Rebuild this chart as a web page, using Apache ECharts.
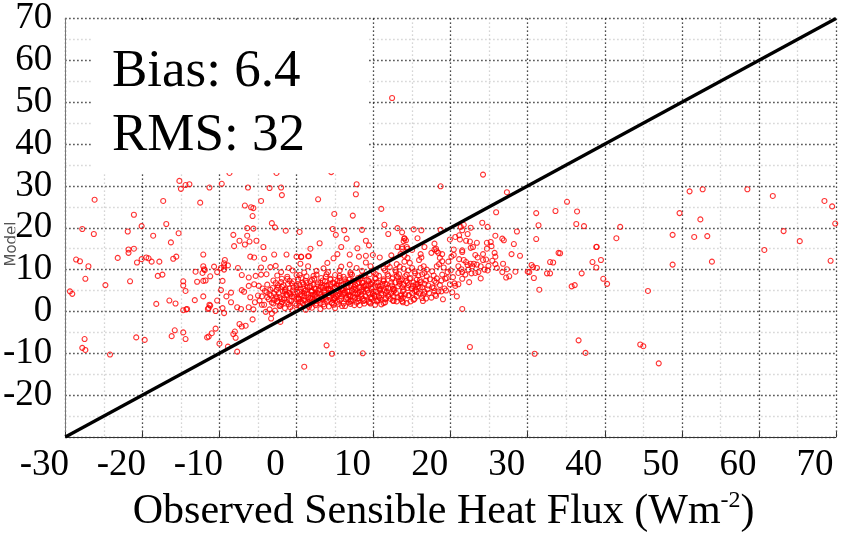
<!DOCTYPE html>
<html><head><meta charset="utf-8">
<script src="https://cdn.jsdelivr.net/npm/echarts@6/dist/echarts.min.js"></script>
<style>html,body{margin:0;padding:0;background:#fff}#c{width:846px;height:538px}</style>
</head><body><div id="c"></div>
<script>
// ---- data ----
const axisRange = [-30, 70];
const tickStep = 10;
const oneToOne = [-30, 70];
const statLines = ['Bias: 6.4', 'RMS: 32'];
const xTitleMain = 'Observed Sensible Heat Flux (Wm';
const xTitleSup = '-2';
const yTitle = 'Model';

// sparse points, left part (obs < -11)
const leftPoints = [[-15.2,31.2],[-15.0,29.3],[-14.4,30.2],[-13.9,30.4],[-11.3,29.6],[-26.2,26.7],[-17.3,26.4],[-12.5,26.0],[-21.1,23.1],[-20.1,20.4],[-16.9,20.9],[-27.8,19.7],[-26.3,18.5],[-21.9,19.1],[-15.3,18.7],[-18.6,18.1],[-16.3,16.5],[-21.8,14.8],[-21.1,15.0],[-21.8,14.0],[-12.1,13.6],[-28.6,12.4],[-28.1,12.0],[-23.2,12.8],[-20.1,12.5],[-19.5,12.9],[-19.2,12.7],[-18.8,11.9],[-20.7,11.7],[-17.8,11.9],[-16.0,12.6],[-15.6,13.1],[-27.0,10.8],[-12.1,10.8],[-11.9,9.9],[-12.2,9.2],[-13.1,9.5],[-18.0,8.5],[-17.4,8.8],[-27.4,7.8],[-11.8,7.4],[-12.9,7.1],[-21.6,7.2],[-14.7,7.2],[-14.7,6.2],[-14.4,4.9],[-24.8,6.3],[-29.4,4.8],[-29.1,4.2],[-12.1,3.6],[-18.2,1.8],[-16.5,2.6],[-15.7,1.9],[-13.2,2.7],[-14.7,0.3],[-14.3,0.5],[-14.2,0.6],[-11.5,0.6],[-11.2,1.4],[-15.8,-4.5],[-14.7,-5.0],[-16.2,-5.9],[-14.4,-6.6],[-20.8,-6.2],[-19.7,-6.8],[-27.5,-6.6],[-27.8,-8.7],[-27.4,-9.2],[-24.2,-10.3],[-11.4,-6.0],[-11.6,-6.2]];

// sparse points, middle-left (-11 .. 2)
const midLeftPoints = [[-8.7,33.1],[-2.6,33.1],[-9.7,30.5],[-6.3,29.6],[-3.5,29.5],[-2.0,29.6],[-1.9,27.8],[-4.6,26.4],[-6.7,25.3],[-5.9,24.9],[-5.6,24.7],[-5.7,22.8],[-3.2,21.1],[-2.8,20.1],[-6.4,19.9],[-5.6,19.8],[-1.4,19.3],[0.4,19.0],[-8.2,18.3],[-6.4,18.1],[-7.4,16.9],[-6.7,16.0],[-6.1,16.7],[-5.2,16.9],[-8.1,15.6],[-4.3,15.4],[-2.9,13.6],[-1.3,13.6],[0.0,13.1],[0.6,13.1],[1.5,13.2],[-6.0,13.1],[-5.5,12.9],[-4.2,12.6],[-9.3,12.3],[-9.4,11.5],[-9.4,10.8],[-10.7,10.7],[-8.9,11.0],[-12.0,10.1],[-4.6,10.5],[-3.4,10.6],[-2.7,10.9],[-7.6,10.4],[-9.4,10.0],[-9.8,10.4],[-10.3,9.4],[-11.2,8.4],[-12.1,7.3],[-7.1,8.7],[-4.6,8.8],[-3.9,8.9],[-6.2,8.1],[-5.3,8.5],[-9.6,7.3],[-9.8,5.1],[-8.5,4.5],[-7.1,5.1],[-6.8,4.7],[-6.2,6.1],[-5.5,6.5],[-4.9,6.1],[-10.3,2.6],[-11.3,1.6],[-11.4,0.8],[-10.5,0.1],[-9.6,0.8],[-9.4,-0.4],[-9.1,3.6],[-8.5,2.2],[-7.7,1.0],[-7.2,0.6],[-6.2,1.0],[-5.6,0.5],[-6.0,3.4],[-5.0,3.8],[-5.4,2.2],[-4.5,1.6],[-4.0,-0.1],[-3.2,-0.5],[-2.1,-2.5],[-3.3,-1.7],[-5.7,-1.9],[-7.4,-3.0],[-6.6,-3.4],[-7.1,-3.6],[-8.0,-4.8],[-8.2,-5.4],[-10.5,-4.1],[-11.0,-5.2],[-7.9,-6.3],[-10.0,-7.7],[-8.9,-8.4],[-7.7,-9.6],[1.0,-13.2]];

// sparse points above / below the main cluster (0 .. 15)
const midPoints = [[7.8,30.4],[7.7,28.0],[2.8,26.8],[11.0,24.5],[4.9,23.3],[7.3,22.9],[4.7,19.7],[6.2,19.4],[8.5,19.5],[5.1,18.3],[11.4,20.7],[11.9,18.5],[13.1,19.9],[6.5,17.4],[9.0,16.9],[14.0,17.4],[14.2,17.0],[3.0,16.3],[5.8,15.4],[7.9,15.1],[9.4,15.8],[13.1,15.4],[13.7,15.0],[1.8,15.0],[0.6,13.0],[1.6,13.2],[4.8,12.7],[5.3,13.7],[6.9,13.6],[8.1,13.1],[9.0,13.3],[9.9,13.5],[10.8,12.9],[12.3,13.4],[3.9,-8.1],[4.6,-10.1],[8.6,-10.0],[12.4,51.0],[4.5,33.3]];

// points with obs 13 .. 35
const midRightPoints = [[24.2,32.7],[18.7,29.9],[27.3,28.5],[25.9,23.7],[31.1,23.5],[33.6,24.0],[31.4,20.6],[24.1,21.2],[21.7,20.7],[21.3,20.2],[21.5,19.4],[22.6,20.0],[24.8,20.2],[28.6,19.1],[15.2,19.6],[16.2,19.4],[13.7,18.9],[18.7,19.5],[14.0,17.5],[13.9,16.8],[15.7,17.5],[19.9,17.2],[20.6,17.8],[21.1,18.2],[21.2,17.2],[22.5,16.7],[23.4,16.4],[24.7,16.4],[25.2,16.6],[24.7,15.0],[25.3,15.6],[25.8,18.1],[26.7,17.4],[26.9,17.0],[28.2,16.1],[31.1,17.3],[22.9,15.4],[22.6,15.2],[22.2,18.5],[22.0,16.9],[15.0,14.7],[14.4,15.0],[16.6,15.4],[17.9,16.2],[18.1,15.0],[27.9,13.7],[29.0,13.3],[25.7,14.0],[23.5,12.9],[20.4,14.8],[21.5,14.6],[21.5,14.2],[18.4,14.0],[18.9,13.7],[18.6,12.8],[20.1,13.1],[20.4,13.5],[21.1,12.5],[16.1,13.7],[16.2,12.9],[15.9,12.3],[17.5,14.0],[17.9,14.8],[18.2,14.4],[13.7,15.4],[14.3,15.4],[13.5,13.7],[14.0,13.3],[14.4,12.8],[24.2,13.7],[23.2,13.5],[24.2,12.3],[24.6,12.4],[25.4,12.1],[25.8,13.1],[26.8,11.4],[22.0,11.8],[22.6,11.4],[23.0,11.4],[23.9,10.8],[24.4,10.0],[24.8,9.8],[23.9,7.9],[24.9,10.9],[25.8,11.3],[26.0,10.4],[26.7,9.4],[27.3,10.1],[27.6,8.4],[27.2,8.1],[28.4,9.5],[21.7,12.3],[21.4,10.1],[21.5,9.4],[22.2,11.1],[22.7,9.1],[22.4,7.0],[20.5,6.7],[19.9,6.5],[20.6,6.1],[30.2,9.4],[30.7,10.6],[30.5,11.1],[31.2,10.4],[30.8,8.0],[31.5,5.2],[32.9,9.1],[30.0,9.5],[33.3,11.7],[34.2,13.9],[21.5,0.6],[22.5,-8.5],[30.9,-10.1],[16.4,2.5],[17.9,4.9],[18.4,4.8],[18.8,4.8],[19.3,7.8],[18.9,8.8],[19.6,9.4],[13.5,3.7],[13.7,2.5],[14.5,3.8],[15.6,4.7],[16.6,4.3],[15.1,6.1],[15.5,6.5],[16.1,7.0],[16.9,8.4],[17.3,7.7],[17.8,8.6],[17.9,7.3],[18.2,7.9],[14.1,8.4],[14.8,8.0],[15.4,9.1],[16.1,10.4],[16.5,10.8],[16.6,9.2],[16.9,10.0],[17.6,9.6],[18.2,10.8],[18.5,11.3],[18.9,12.0],[19.7,11.9],[21.0,10.8],[21.0,9.2],[21.5,7.8],[21.9,8.8],[22.3,10.0],[22.8,10.8],[23.4,11.2],[23.2,9.2],[23.6,9.4],
[12.8,9.9],[13.9,10.2],[15.3,9.6],[16.3,8.9],[17.1,6.2],[17.8,5.6],[18.6,6.3],[19.4,5.0],[20.2,4.6],[15.0,5.5],[16.0,5.7],[14.2,7.2],[15.6,7.6],[16.8,7.4],[13.2,8.1],[12.1,10.6],[13.0,11.3],[14.0,11.9],[19.1,10.5],[20.0,9.8],[20.3,8.2],[19.5,8.0],[16.3,3.2],[17.2,4.4],[18.1,3.7],[15.3,3.0],[14.8,2.4],[20.8,3.6],[19.0,2.9]];

// far right points (obs > 32)
const rightPoints = [[51.0,28.7],[52.7,29.2],[58.5,29.2],[61.8,27.6],[68.5,26.4],[69.5,25.1],[69.9,21.0],[35.1,26.2],[36.4,23.9],[49.7,23.5],[36.3,20.9],[37.3,20.4],[42.0,20.2],[52.4,22.0],[48.8,18.3],[51.6,17.8],[53.3,18.0],[41.5,17.5],[63.2,19.2],[65.3,16.8],[60.7,14.7],[69.3,12.1],[53.9,11.9],[48.8,11.2],[38.9,15.4],[38.95,15.45],[34.0,14.0],[32.9,11.8],[38.4,11.8],[39.5,12.3],[38.9,10.5],[37.0,9.1],[39.8,7.8],[40.3,6.6],[35.7,6.0],[36.1,6.3],[45.6,4.9],[32.5,9.1],[36.6,-6.9],[37.5,-9.9],[44.6,-7.9],[45.0,-8.3],[47.0,-12.4]];

// main cluster
const clusterPoints = [
[-3.5,0.5],[-2.8,0.2],[-1.5,0.8],[-0.5,0.3],[0.5,1.0],[1.2,0.4],[2.0,0.9],[3.1,0.6],[4.2,1.2],[5.0,0.8],[6.3,1.3],[7.5,1.5],[8.8,1.9],[10.2,1.6],[11.5,2.2],[13.0,2.4],[14.3,2.0],
[-4.2,1.6],[-3.0,1.9],[-2.1,1.4],[-1.0,1.7],[0.0,1.5],[0.8,2.0],[1.7,1.6],[2.6,1.9],[3.5,1.7],[4.6,2.1],[5.5,1.8],[6.8,2.2],[8.0,2.5],[9.4,2.3],[10.6,2.8],[12.2,3.0],
[-4.8,2.6],[-3.6,2.9],[-2.5,2.4],[-1.6,2.8],[-0.7,2.5],[0.3,2.9],[1.1,2.6],[2.0,3.0],[2.9,2.7],[3.8,3.0],[4.8,2.8],[5.8,3.1],[6.7,2.9],[7.6,3.3],[8.6,3.1],[9.6,3.4],[10.8,3.2],[11.9,3.6],[13.1,3.4],[14.6,3.9],
[-4.5,3.6],[-3.3,3.8],[-2.2,3.4],[-1.2,3.9],[-0.3,3.5],[0.7,3.8],[1.5,3.4],[2.4,3.9],[3.3,3.5],[4.2,3.9],[5.1,3.6],[6.0,4.0],[6.9,3.7],[7.9,4.1],[8.9,3.8],[9.9,4.2],[11.0,3.9],[12.3,4.3],[13.6,4.0],[15.0,4.4],[16.4,4.0],
[-3.9,4.6],[-2.9,4.3],[-1.8,4.8],[-0.9,4.4],[0.1,4.7],[1.0,4.3],[1.9,4.8],[2.7,4.4],[3.6,4.9],[4.5,4.5],[5.4,4.9],[6.3,4.5],[7.2,5.0],[8.2,4.6],[9.2,5.0],[10.3,4.7],[11.4,5.1],[12.6,4.8],[13.9,5.2],[15.3,4.9],[17.0,5.3],
[-4.4,5.5],[-3.4,5.2],[-2.4,5.7],[-1.4,5.3],[-0.4,5.8],[0.5,5.4],[1.4,5.9],[2.3,5.5],[3.2,5.9],[4.1,5.4],[5.0,5.8],[5.9,5.4],[6.8,5.9],[7.7,5.5],[8.7,5.9],[9.7,5.5],[10.8,6.0],[11.9,5.6],[13.2,6.0],[14.4,5.6],[15.8,6.0],[17.6,5.8],[19.2,5.5],
[-3.8,6.4],[-2.7,6.8],[-1.7,6.3],[-0.6,6.7],[0.4,6.3],[1.3,6.8],[2.2,6.4],[3.1,6.8],[4.0,6.3],[4.9,6.7],[5.8,6.3],[6.7,6.8],[7.6,6.4],[8.6,6.8],[9.6,6.4],[10.6,6.9],[11.7,6.5],[12.8,6.9],[13.9,6.5],[15.2,6.9],[16.6,6.6],[18.1,6.9],[21.0,6.5],
[-3.0,7.4],[-1.9,7.8],[-0.9,7.3],[0.2,7.7],[1.2,7.3],[2.3,7.8],[3.4,7.4],[4.4,7.8],[5.3,7.3],[6.3,7.7],[7.3,7.3],[8.3,7.8],[9.3,7.4],[10.3,7.8],[11.3,7.4],[12.4,7.8],[13.5,7.4],[14.7,7.8],[16.0,7.5],[18.8,7.4],
[-2.5,8.6],[-1.2,8.3],[0.0,8.7],[1.3,8.4],[2.6,8.8],[3.8,8.3],[5.0,8.7],[6.1,8.3],[7.2,8.8],[8.4,8.4],[9.5,8.9],[10.7,8.5],[11.8,8.9],[13.0,8.5],[14.3,8.8],[15.8,8.6],
[-2.0,9.4],[-0.5,9.8],[1.0,9.3],[2.6,9.7],[4.1,9.4],[5.6,9.8],[7.0,9.3],[8.5,9.7],[10.0,9.4],[11.5,9.8],[12.9,9.4],[14.5,9.8],
[-1.0,10.4],[1.5,10.8],[3.5,10.3],[5.8,10.7],[7.8,10.4],[9.6,10.8],[11.3,10.3],[13.4,10.7],[15.0,10.4],
[0.5,11.4],[4.0,11.6],[6.9,11.2],[9.0,11.7],[11.8,11.3],[14.7,11.6],
[1.8,3.3],[2.5,4.1],[3.0,5.2],[3.7,4.4],[4.4,5.1],[4.9,3.3],[5.6,4.2],[6.1,5.6],[6.6,4.8],[7.0,3.6],[7.5,5.8],[8.0,4.4],[8.5,5.3],[9.0,6.2],[2.0,5.0],[1.1,4.9],[0.3,3.1],[-0.8,4.1],[-1.5,5.1],[3.9,6.1],[5.3,6.5],[6.4,7.0],[8.1,7.0],[9.8,6.9],[10.9,5.4],[11.6,4.4],[12.5,5.4],[10.1,3.7],[-2.6,3.1],[-1.9,2.2]
];

// densest core of the cluster
const clusterCore = [
[-2.2,1.3],[-0.8,1.0],[0.4,1.4],[1.6,1.1],[2.5,1.5],[3.6,1.2],[4.8,1.6],[5.9,1.3],[7.0,1.8],[8.2,1.5],[9.6,1.9],[11.0,1.7],
[-3.2,2.1],[-2.0,1.8],[-1.2,2.2],[-0.2,1.9],[0.6,2.3],[1.4,2.0],[2.2,2.3],[3.1,2.0],[3.9,2.4],[4.6,2.0],[5.3,2.3],[6.1,1.9],[7.0,2.4],[7.8,2.1],[8.7,2.5],[9.5,2.1],[10.4,2.4],[11.3,2.0],[12.6,2.5],[13.8,2.2],
[-2.9,2.7],[-1.9,3.0],[-0.9,2.6],[0.0,3.0],[0.9,2.7],[1.6,2.9],[2.4,2.5],[3.3,2.9],[4.1,2.6],[4.9,3.0],[5.6,2.6],[6.4,2.9],[7.1,2.6],[7.9,3.0],[8.8,2.7],[9.7,3.0],[10.5,2.6],[11.5,2.9],[12.5,2.6],[13.6,3.0],[15.2,2.8],[16.8,3.1],
[-3.8,3.4],[-2.6,3.6],[-1.6,3.2],[-0.6,3.6],[0.2,3.3],[1.0,3.6],[1.8,3.2],[2.6,3.6],[3.4,3.2],[4.2,3.5],[5.0,3.2],[5.8,3.6],[6.5,3.3],[7.3,3.6],[8.1,3.2],[9.0,3.6],[9.8,3.3],[10.7,3.6],[11.6,3.2],[12.6,3.6],[13.8,3.3],[15.6,3.6],[17.5,3.3],
[-3.5,4.1],[-2.3,4.4],[-1.3,4.0],[-0.4,4.3],[0.5,4.0],[1.3,4.3],[2.1,4.0],[2.9,4.3],[3.7,4.0],[4.5,4.3],[5.3,4.0],[6.1,4.3],[6.8,4.0],[7.6,4.3],[8.4,4.0],[9.3,4.4],[10.1,4.0],[11.0,4.3],[11.9,4.0],[12.9,4.4],[14.1,4.1],[15.9,4.3],[18.0,4.0],
[-4.1,4.9],[-2.6,5.1],[-1.5,4.7],[-0.5,5.0],[0.4,4.7],[1.2,5.1],[2.0,4.7],[2.8,5.0],[3.6,4.6],[4.4,5.0],[5.2,4.7],[6.0,5.0],[6.8,4.7],[7.6,5.1],[8.4,4.8],[9.2,5.2],[10.0,4.8],[10.8,5.1],[11.7,4.8],[12.7,5.1],[13.8,4.8],[15.5,5.1],[16.6,4.7],
[-3.1,5.6],[-1.9,5.9],[-0.9,5.5],[0.0,5.8],[0.9,5.5],[1.7,5.8],[2.5,5.4],[3.4,5.7],[4.2,5.4],[5.0,5.7],[5.8,5.4],[6.6,5.8],[7.4,5.4],[8.2,5.7],[9.0,5.4],[9.9,5.8],[10.7,5.5],[11.6,5.8],[12.6,5.4],[13.7,5.8],[14.9,5.5],[16.3,5.8],
[-2.4,6.3],[-1.1,6.6],[0.0,6.2],[0.9,6.5],[1.8,6.1],[2.7,6.5],[3.6,6.2],[4.4,6.5],[5.2,6.1],[6.1,6.5],[7.0,6.2],[7.9,6.6],[8.8,6.2],[9.7,6.6],[10.6,6.2],[11.5,6.6],[12.4,6.2],[13.4,6.6],[14.5,6.3],[15.7,6.6],
[-2.0,7.0],[-0.4,7.2],[0.8,6.9],[1.8,7.2],[2.8,6.9],[3.7,7.2],[4.7,6.9],[5.6,7.2],[6.6,6.9],[7.5,7.1],[8.5,6.9],[9.4,7.2],[10.4,6.9],[11.3,7.2],[12.3,6.9],[13.3,7.2],[14.4,6.9],
[-1.2,7.8],[0.6,8.0],[2.0,7.6],[3.2,8.0],[4.4,7.6],[5.6,8.0],[6.8,7.6],[8.0,8.0],[9.1,7.6],[10.2,8.0],[11.3,7.7],[12.5,8.1],[13.7,7.7],
[0.4,8.7],[2.2,8.5],[3.9,8.9],[5.6,8.5],[7.0,8.9],[8.8,8.5],[10.3,8.9],[11.9,8.5],[13.3,8.9]
];

// ---- chart ----
const serif = '"Liberation Serif","Times New Roman",serif';
const allPoints = [].concat(leftPoints, midLeftPoints, midPoints, midRightPoints, rightPoints, clusterPoints, clusterCore);
const chart = echarts.init(document.getElementById('c'), null, {renderer: 'canvas'});
const dotted = [1.2, 2.8];
chart.setOption({
  animation: false,
  backgroundColor: '#fff',
  grid: {left: 65, right: 10, top: 16, bottom: 93},
  xAxis: {
    type: 'value', min: axisRange[0], max: axisRange[1], interval: tickStep,
    axisLine: {show: true, onZero: false, lineStyle: {color: '#333', width: 1}},
    axisTick: {show: true, inside: true, length: 5, lineStyle: {color: '#333'}},
    minorTick: {show: false, splitNumber: 2},
    splitLine: {show: true, lineStyle: {color: '#111', type: dotted, width: 1.3}},
    minorSplitLine: {show: true, lineStyle: {color: '#c8c8c8', type: dotted, width: 1.3}},
    axisLabel: {fontFamily: serif, fontSize: 37, color: '#000', margin: 10, padding: [0, 42, 0, 0], showMinLabel: true, showMaxLabel: true, hideOverlap: false},
    name: '{a|' + xTitleMain + '}{s|' + xTitleSup + '}{a|)}',
    nameLocation: 'middle', nameGap: 52,
    nameTextStyle: {padding: [0, 14, 0, 0], rich: {
      a: {fontFamily: serif, fontSize: 42, color: '#000', lineHeight: 46},
      s: {fontFamily: serif, fontSize: 24, color: '#000', verticalAlign: 'top', lineHeight: 30}
    }}
  },
  yAxis: {
    type: 'value', min: axisRange[0], max: axisRange[1], interval: tickStep,
    axisLine: {show: true, onZero: false, lineStyle: {color: '#777', width: 1}},
    axisTick: {show: false},
    minorTick: {show: false, splitNumber: 2},
    splitLine: {show: true, lineStyle: {color: '#111', type: dotted, width: 1.3}},
    minorSplitLine: {show: true, lineStyle: {color: '#c8c8c8', type: dotted, width: 1.3}},
    axisLabel: {fontFamily: serif, fontSize: 37, lineHeight: 33, color: '#000', margin: 13, padding: [4, 0, 0, 0],
      backgroundColor: '#fff', showMinLabel: true, showMaxLabel: true, hideOverlap: false,
      formatter: v => (v === axisRange[0] ? '' : String(v))}
  },
  graphic: [
    {type: 'text', z: -1, x: 12, y: 244, rotation: Math.PI / 2,
      style: {text: yTitle, font: '15px "DejaVu Sans"', fill: '#555', align: 'center', verticalAlign: 'middle'}},
    {type: 'rect', z: 100, shape: {x: 93, y: 22, width: 274, height: 151}, style: {fill: '#fff'}},
    {type: 'text', z: 101, x: 112, y: 72, style: {text: statLines[0], font: '53px ' + serif, fill: '#000', verticalAlign: 'middle'}},
    {type: 'text', z: 101, x: 112, y: 136, style: {text: statLines[1], font: '53px ' + serif, fill: '#000', verticalAlign: 'middle'}}
  ],
  series: [
    {type: 'scatter', z: 2, symbol: 'circle', symbolSize: 5, data: allPoints,
      itemStyle: {color: 'rgba(255,0,0,0)', borderColor: '#ff0000', borderWidth: 1.1}, silent: true},
    {type: 'line', z: 3, data: [[oneToOne[0], oneToOne[0]], [oneToOne[1], oneToOne[1]]],
      symbol: 'none', lineStyle: {color: '#000', width: 3.2}, silent: true}
  ]
});
</script></body></html>
